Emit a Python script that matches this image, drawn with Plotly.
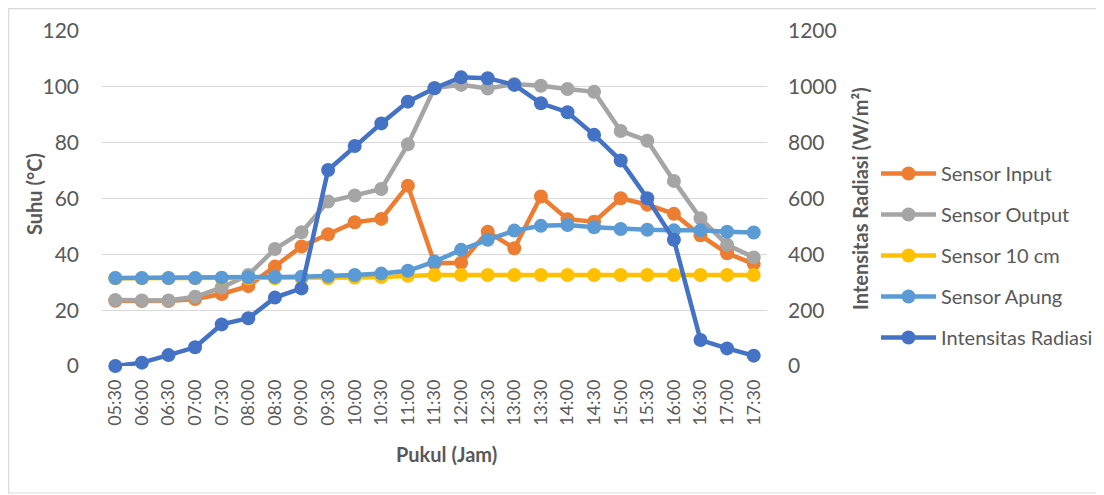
import plotly.graph_objects as go

times = ["05:30","06:00","06:30","07:00","07:30","08:00","08:30","09:00","09:30","10:00",
         "10:30","11:00","11:30","12:00","12:30","13:00","13:30","14:00","14:30","15:00",
         "15:30","16:00","16:30","17:00","17:30"]

sensor_input = [23.4, 23.3, 23.3, 24.0, 25.8, 28.6, 35.6, 42.8, 47.2, 51.5,
                52.7, 64.6, 36.8, 37.0, 48.1, 42.2, 60.7, 52.6, 51.7, 60.1,
                57.8, 54.5, 46.8, 40.4, 36.6]
sensor_output = [23.6, 23.5, 23.5, 24.8, 28.1, 32.6, 41.9, 47.9, 58.9, 61.1,
                 63.4, 79.4, 99.6, 100.7, 99.4, 101.0, 100.4, 99.2, 98.2, 84.2,
                 80.7, 66.3, 52.9, 43.4, 38.9]
sensor_10cm = [31.4, 31.4, 31.4, 31.4, 31.4, 31.4, 31.4, 31.4, 31.4, 31.7,
               31.9, 32.3, 32.6, 32.6, 32.6, 32.6, 32.6, 32.6, 32.6, 32.6,
               32.6, 32.6, 32.6, 32.6, 32.6]
sensor_apung = [31.5, 31.5, 31.5, 31.5, 31.6, 31.8, 31.9, 32.0, 32.2, 32.6,
                33.1, 34.1, 37.4, 41.6, 45.2, 48.5, 50.2, 50.5, 49.7, 49.1,
                48.8, 48.6, 48.6, 48.1, 47.8]
intensitas = [0, 12, 39, 67, 149, 171, 245, 278, 702, 788,
              869, 947, 995, 1034, 1031, 1007, 941, 909, 828, 736,
              601, 452, 93, 63, 37]

series = [
    ("Sensor Input", sensor_input, "#ED7D31", "y"),
    ("Sensor Output", sensor_output, "#A5A5A5", "y"),
    ("Sensor 10 cm", sensor_10cm, "#FFC000", "y"),
    ("Sensor Apung", sensor_apung, "#5B9BD5", "y"),
    ("Intensitas Radiasi", intensitas, "#4472C4", "y2"),
]

fig = go.Figure()
for name, vals, color, ax in series:
    fig.add_trace(go.Scatter(
        x=times, y=vals, name=name, yaxis=ax, mode="lines+markers",
        line=dict(color=color, width=4.5),
        marker=dict(color=color, size=14),
        cliponaxis=False, legendgroup=name,
    ))

# page body has an 8px margin; work in window pixels and shift
OFF = 8
W, H = 1104 - OFF, 495 - OFF
L, R, T, B = 102 - OFF, 767 - OFF, 31 - OFF, 366 - OFF
pw, ph = R - L, B - T

def px(x):
    return (x - OFF - L) / pw

def py(y):
    return (B - (y - OFF)) / ph

font_family = "Lato, Open Sans, sans-serif"
tick_color = "#595959"

fig.update_layout(
    width=W, height=H,
    margin=dict(l=L, r=W - R, t=T, b=H - B, autoexpand=False),
    paper_bgcolor="white", plot_bgcolor="white",
    font=dict(family=font_family, color=tick_color),
    xaxis=dict(type="category", range=[-0.5, 24.5], showgrid=False,
               tickangle=-90, tickfont=dict(size=18, color=tick_color),
               showline=False, zeroline=False, ticks="", ticklabelstandoff=9),
    yaxis=dict(range=[0, 120], dtick=20, showgrid=True, gridcolor="#d9d9d9",
               gridwidth=1, zeroline=False, showline=False, ticks="",
               tickfont=dict(size=21, color=tick_color), ticklabelstandoff=22),
    yaxis2=dict(range=[0, 1200], dtick=200, overlaying="y", side="right",
                showgrid=False, zeroline=False, showline=False, ticks="",
                tickfont=dict(size=21, color=tick_color), ticklabelstandoff=20),
    showlegend=True,
    legend=dict(x=px(876), y=py(154), xanchor="left", yanchor="top",
                font=dict(size=20, color=tick_color), itemwidth=55,
                traceorder="grouped", tracegroupgap=12,
                bgcolor="rgba(0,0,0,0)"),
    annotations=[
        dict(text="<b>Suhu (°C)</b>", x=px(34), y=py(194), xref="paper", yref="paper",
             xanchor="center", yanchor="middle",
             textangle=-90, showarrow=False, font=dict(size=20, color=tick_color)),
        dict(text="<b>Intensitas Radiasi (W/m²)</b>", x=px(860), y=py(199),
             xref="paper", yref="paper", xanchor="center", yanchor="middle",
             textangle=-90, showarrow=False,
             font=dict(size=20, color=tick_color)),
        dict(text="<b>Pukul (Jam)</b>", x=px(446), y=py(454), xref="paper", yref="paper",
             xanchor="center", yanchor="middle",
             showarrow=False, font=dict(size=20, color=tick_color)),
    ],
    shapes=[dict(type="rect", xref="paper", yref="paper",
                 x0=px(8.7), x1=px(1110), y0=py(493), y1=py(8.7),
                 line=dict(color="#d9d9d9", width=1.2), layer="below")],
)

fig.write_html("out.html")
